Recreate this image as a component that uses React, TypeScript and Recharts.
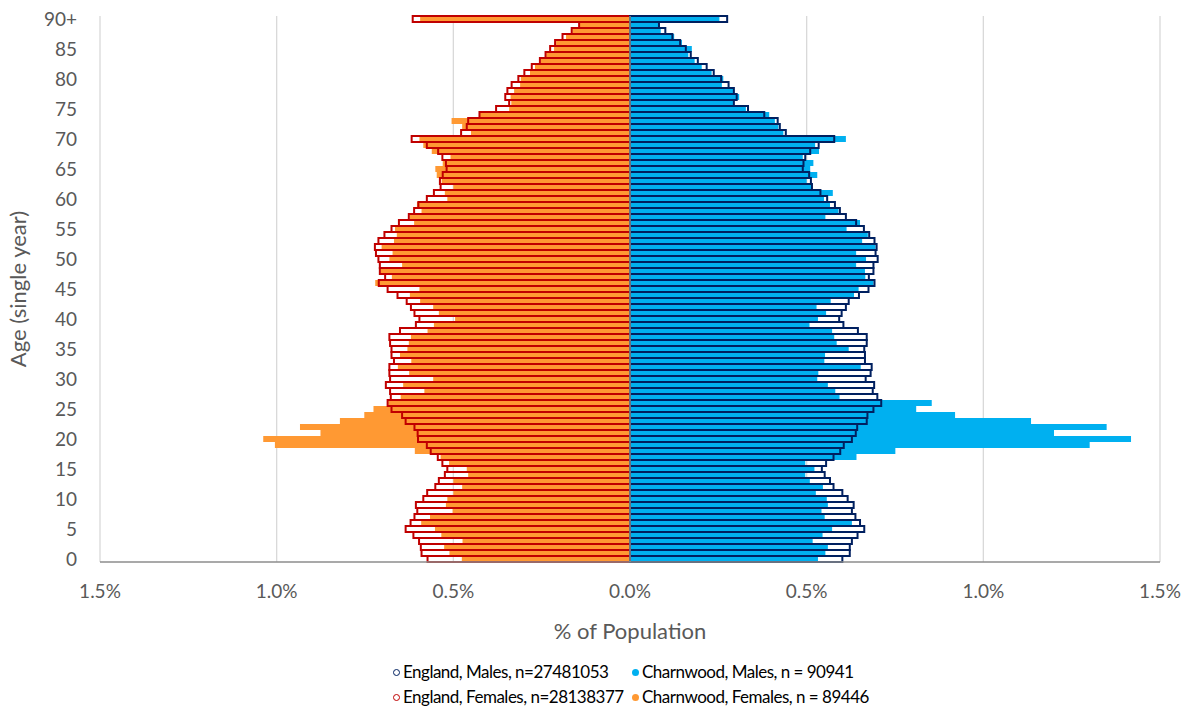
import React from 'react';
import {
  BarChart,
  Bar,
  XAxis,
  YAxis,
  CartesianGrid,
  ReferenceLine,
} from 'recharts';

// Age bands 0..89 plus 90+ (index = age)
const ageLabels: string[] = [
  '0', '1', '2', '3', '4', '5', '6', '7', '8', '9',
  '10', '11', '12', '13', '14', '15', '16', '17', '18', '19',
  '20', '21', '22', '23', '24', '25', '26', '27', '28', '29',
  '30', '31', '32', '33', '34', '35', '36', '37', '38', '39',
  '40', '41', '42', '43', '44', '45', '46', '47', '48', '49',
  '50', '51', '52', '53', '54', '55', '56', '57', '58', '59',
  '60', '61', '62', '63', '64', '65', '66', '67', '68', '69',
  '70', '71', '72', '73', '74', '75', '76', '77', '78', '79',
  '80', '81', '82', '83', '84', '85', '86', '87', '88', '89',
  '90+',
];

// % of population
const englandFemales: number[] = [
  0.573, 0.590, 0.592, 0.597, 0.613, 0.635, 0.621, 0.610, 0.602, 0.606,
  0.585, 0.574, 0.551, 0.541, 0.524, 0.517, 0.531, 0.544, 0.564, 0.575,
  0.600, 0.601, 0.610, 0.635, 0.645, 0.675, 0.686, 0.677, 0.679, 0.691,
  0.679, 0.681, 0.681, 0.668, 0.675, 0.675, 0.679, 0.681, 0.651, 0.606,
  0.596, 0.610, 0.620, 0.632, 0.658, 0.686, 0.711, 0.693, 0.708, 0.708,
  0.712, 0.719, 0.722, 0.712, 0.695, 0.675, 0.654, 0.626, 0.611, 0.599,
  0.575, 0.555, 0.536, 0.538, 0.530, 0.519, 0.521, 0.531, 0.543, 0.575,
  0.618, 0.478, 0.462, 0.458, 0.426, 0.379, 0.342, 0.353, 0.347, 0.335,
  0.316, 0.299, 0.278, 0.255, 0.239, 0.226, 0.212, 0.191, 0.165, 0.144,
  0.615,
];

const charnwoodFemales: number[] = [
  0.476, 0.511, 0.526, 0.474, 0.534, 0.552, 0.591, 0.566, 0.502, 0.521,
  0.517, 0.500, 0.475, 0.500, 0.458, 0.462, 0.512, 0.536, 0.609, 1.005,
  1.038, 0.876, 0.934, 0.821, 0.752, 0.726, 0.684, 0.649, 0.582, 0.642,
  0.557, 0.625, 0.657, 0.619, 0.651, 0.630, 0.626, 0.620, 0.573, 0.555,
  0.495, 0.541, 0.557, 0.594, 0.623, 0.596, 0.721, 0.674, 0.706, 0.645,
  0.681, 0.672, 0.703, 0.668, 0.660, 0.665, 0.611, 0.623, 0.590, 0.603,
  0.517, 0.524, 0.500, 0.533, 0.547, 0.551, 0.530, 0.508, 0.561, 0.585,
  0.596, 0.450, 0.475, 0.505, 0.425, 0.342, 0.336, 0.338, 0.328, 0.311,
  0.309, 0.283, 0.269, 0.252, 0.237, 0.215, 0.209, 0.181, 0.163, 0.143,
  0.594,
];

const englandMales: number[] = [
  0.601, 0.622, 0.622, 0.628, 0.644, 0.663, 0.651, 0.638, 0.628, 0.633,
  0.616, 0.601, 0.576, 0.566, 0.551, 0.543, 0.555, 0.576, 0.595, 0.605,
  0.628, 0.639, 0.643, 0.670, 0.672, 0.689, 0.711, 0.700, 0.687, 0.691,
  0.667, 0.681, 0.684, 0.665, 0.665, 0.663, 0.670, 0.670, 0.645, 0.604,
  0.592, 0.599, 0.611, 0.619, 0.648, 0.675, 0.692, 0.676, 0.689, 0.689,
  0.701, 0.695, 0.698, 0.692, 0.677, 0.662, 0.640, 0.611, 0.594, 0.580,
  0.558, 0.539, 0.515, 0.512, 0.507, 0.489, 0.491, 0.496, 0.510, 0.534,
  0.578, 0.441, 0.424, 0.418, 0.380, 0.334, 0.294, 0.302, 0.294, 0.279,
  0.258, 0.237, 0.217, 0.192, 0.172, 0.158, 0.142, 0.120, 0.100, 0.082,
  0.275,
];

const charnwoodMales: number[] = [
  0.532, 0.553, 0.560, 0.517, 0.545, 0.572, 0.628, 0.551, 0.542, 0.560,
  0.557, 0.526, 0.546, 0.509, 0.496, 0.522, 0.496, 0.641, 0.751, 1.301,
  1.418, 1.200, 1.349, 1.135, 0.920, 0.810, 0.854, 0.593, 0.581, 0.560,
  0.530, 0.533, 0.653, 0.550, 0.552, 0.619, 0.585, 0.578, 0.572, 0.508,
  0.532, 0.555, 0.528, 0.568, 0.634, 0.647, 0.689, 0.666, 0.665, 0.640,
  0.668, 0.640, 0.695, 0.657, 0.673, 0.613, 0.651, 0.553, 0.590, 0.566,
  0.549, 0.574, 0.515, 0.500, 0.530, 0.510, 0.519, 0.489, 0.535, 0.524,
  0.611, 0.434, 0.420, 0.410, 0.394, 0.328, 0.294, 0.309, 0.292, 0.260,
  0.264, 0.231, 0.203, 0.183, 0.165, 0.175, 0.147, 0.125, 0.087, 0.082,
  0.253,
];

const xTicks: number[] = [-1.5, -1, -0.5, 0, 0.5, 1, 1.5];

const legendItems = [
  { label: 'England, Males, n=27481053', color: '#002060', hollow: true },
  { label: 'Charnwood, Males, n = 90941', color: '#00B0F0', hollow: false },
  { label: 'England, Females, n=28138377', color: '#C00000', hollow: true },
  { label: 'Charnwood, Females, n = 89446', color: '#FF9933', hollow: false },
];

const FONT = 'Lato, "Open Sans", sans-serif';

// top row of the chart is 90+, so build the table oldest first
const chartData = ageLabels
  .map((age, i) => ({
    age,
    chF: -charnwoodFemales[i],
    chM: charnwoodMales[i],
    enF: -englandFemales[i],
    enM: englandMales[i],
  }))
  .reverse();

const showAge = (v: string) => (v === '90+' || Number(v) % 5 === 0 ? v : '');

const App = () => {
  return (
    <div style={{ position: 'absolute', left: 0, top: 0, width: 1192, height: 707, background: '#fff' }}>
      <BarChart
        width={1192}
        height={707}
        data={chartData}
        layout="vertical"
        stackOffset="sign"
        barCategoryGap={0}
        barGap="-100%"
        margin={{ top: 16, right: 32, left: 0, bottom: 60 }}
      >
        <CartesianGrid horizontal={false} stroke="#D9D9D9" strokeWidth={1.3} />
        <XAxis
          type="number"
          domain={[-1.5, 1.5]}
          ticks={xTicks}
          allowDataOverflow
          height={85}
          tickLine={false}
          tickSize={0}
          tickMargin={23}
          axisLine={{ stroke: '#8C8C8C', strokeWidth: 1.5 }}
          tick={{ fill: '#595959', fontSize: 19, fontFamily: FONT }}
          tickFormatter={(v: number) => Math.abs(v).toFixed(1) + '%'}
          label={{
            value: '% of Population',
            position: 'insideTop',
            offset: 61,
            style: { fill: '#595959', fontSize: 22, fontFamily: FONT },
          }}
        />
        <YAxis
          type="category"
          dataKey="age"
          width={100}
          interval={0}
          axisLine={false}
          tickLine={false}
          tickSize={0}
          tickMargin={23}
          tick={{ fill: '#595959', fontSize: 19, fontFamily: FONT }}
          tickFormatter={showAge}
          label={{
            value: 'Age (single year)',
            angle: -90,
            position: 'insideLeft',
            offset: 18,
            style: { fill: '#595959', fontSize: 22, fontFamily: FONT, textAnchor: 'middle' },
          }}
        />
        <Bar dataKey="chF" stackId="ch" fill="#FF9933" isAnimationActive={false} />
        <Bar dataKey="chM" stackId="ch" fill="#00B0F0" isAnimationActive={false} />
        <Bar dataKey="enF" stackId="en" fill="none" stroke="#C00000" strokeWidth={2} isAnimationActive={false} />
        <Bar dataKey="enM" stackId="en" fill="none" stroke="#002060" strokeWidth={2} isAnimationActive={false} />
        <ReferenceLine x={0} stroke="#8C8C8C" strokeWidth={1.5} />
      </BarChart>

      {/* legend, two columns like the Excel original */}
      {legendItems.map((item, i) => (
        <div
          key={item.label}
          style={{
            position: 'absolute',
            left: i % 2 === 0 ? 393 : 632,
            top: i < 2 ? 660 : 685,
            display: 'flex',
            alignItems: 'center',
            fontFamily: FONT,
            fontSize: 17,
            letterSpacing: -0.5,
            color: '#000',
            whiteSpace: 'nowrap',
            lineHeight: '24px',
          }}
        >
          <span
            style={{
              display: 'inline-block',
              width: item.hollow ? 5 : 7,
              height: item.hollow ? 5 : 7,
              borderRadius: '50%',
              background: item.hollow ? '#fff' : item.color,
              border: item.hollow ? `1.5px solid ${item.color}` : 'none',
              marginRight: 3,
            }}
          />
          {item.label}
        </div>
      ))}
    </div>
  );
};

export default App;
